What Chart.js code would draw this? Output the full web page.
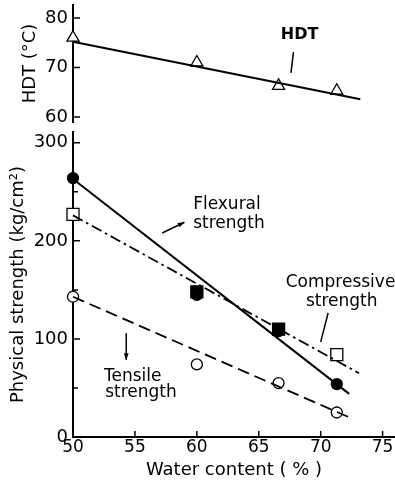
<!DOCTYPE html>
<html>
<head>
<meta charset="utf-8">
<script src="https://cdn.jsdelivr.net/npm/chart.js@4.4.1/dist/chart.umd.min.js"></script>
<style>
  html, body { margin: 0; padding: 0; background: #fff; }
  #wrap { position: relative; width: 395px; height: 481px; }
  #topBox { position: absolute; left: 0; top: 0; width: 395px; height: 127px; }
  #botBox { position: absolute; left: 0; top: 127px; width: 395px; height: 354px; }
</style>
</head>
<body>
<div id="wrap">
  <div id="topBox"><canvas id="hdtChart"></canvas></div>
  <div id="botBox"><canvas id="strengthChart"></canvas></div>
</div>
<script>
// measured points
const waterContent = [50, 60, 66.6, 71.3];
const hdtValues = [76, 71, 66.3, 65.3];
const flexuralValues = [264, 145, 108, 54];
const compressiveValues = [227, 148, 110, 84];
const tensileValues = [143, 74, 55, 25];

// fitted straight lines (start and end)
const hdtFitX = [50, 73.2];
const hdtFit = [75.2, 63.6];
const flexuralFitX = [50, 72.3];
const flexuralFit = [263, 44];
const compressiveFitX = [50, 73.1];
const compressiveFit = [226, 65];
const tensileFitX = [50, 72.5];
const tensileFit = [143, 19];

// tick labels
const waterTicks = [50, 55, 60, 65, 70, 75];
const hdtTicks = [60, 70, 80];
const strengthTicks = [0, 100, 200, 300];
const strengthMinorTicks = [50, 150, 250];

Chart.defaults.font.family = "'DejaVu Sans', sans-serif";
Chart.defaults.color = '#000';

const toPoints = (xs, ys) => xs.map((x, i) => ({ x: x, y: ys[i] }));

// keep the plot box where the figure has it, labels may overhang
function fixWidth(s) {
  s.width = 73;
  s.paddingTop = 0;
  s.paddingBottom = 0;
}
function fixHeight(s) {
  s.height = 44;
  s.paddingLeft = 0;
  s.paddingRight = 0;
}

// short tick marks drawn inside the plot, like the printed figure
const innerTicks = {
  id: 'innerTicks',
  afterDraw(chart) {
    const ctx = chart.ctx;
    const xs = chart.scales.x;
    const ys = chart.scales.y;
    ctx.save();
    ctx.strokeStyle = '#000';
    ctx.lineWidth = 1.5;
    ctx.beginPath();
    ys.ticks.forEach(t => {
      const py = ys.getPixelForValue(t.value);
      const len = strengthMinorTicks.includes(t.value) && chart.canvas.id === 'strengthChart' ? 5 : 7;
      ctx.moveTo(ys.right, py);
      ctx.lineTo(ys.right + len, py);
    });
    if (xs.options.display) {
      xs.ticks.forEach(t => {
        if (t.value === 50) return;
        const px = xs.getPixelForValue(t.value);
        ctx.moveTo(px, xs.top);
        ctx.lineTo(px, xs.top - 6);
      });
    }
    ctx.stroke();
    ctx.restore();
  }
};

function arrowHead(ctx, x1, y1, x2, y2) {
  const a = Math.atan2(y2 - y1, x2 - x1);
  const s = 7;
  ctx.beginPath();
  ctx.moveTo(x2, y2);
  ctx.lineTo(x2 - s * Math.cos(a - 0.35), y2 - s * Math.sin(a - 0.35));
  ctx.lineTo(x2 - s * Math.cos(a + 0.35), y2 - s * Math.sin(a + 0.35));
  ctx.closePath();
  ctx.fill();
}

// text labels and leader lines, placed in data units
function makeNotes(labels, pointers) {
  return {
    id: 'notes',
    afterDatasetsDraw(chart) {
      const ctx = chart.ctx;
      const xs = chart.scales.x;
      const ys = chart.scales.y;
      ctx.save();
      ctx.fillStyle = '#000';
      ctx.strokeStyle = '#000';
      ctx.lineWidth = 1.5;
      ctx.textBaseline = 'middle';
      labels.forEach(l => {
        ctx.font = l.font;
        ctx.textAlign = l.align;
        ctx.fillText(l.text, xs.getPixelForValue(l.x), ys.getPixelForValue(l.y));
      });
      pointers.forEach(p => {
        const x1 = xs.getPixelForValue(p.from[0]), y1 = ys.getPixelForValue(p.from[1]);
        const x2 = xs.getPixelForValue(p.to[0]), y2 = ys.getPixelForValue(p.to[1]);
        ctx.beginPath();
        ctx.moveTo(x1, y1);
        ctx.lineTo(x2, y2);
        ctx.stroke();
        if (p.arrow) arrowHead(ctx, x1, y1, x2, y2);
      });
      ctx.restore();
    }
  };
}

const noteFont = "17px 'DejaVu Sans'";

new Chart(document.getElementById('hdtChart'), {
  type: 'scatter',
  data: {
    datasets: [{
      data: toPoints(hdtFitX, hdtFit),
      showLine: true,
      borderColor: '#000',
      borderWidth: 2,
      pointRadius: 0,
      clip: false
    }, {
      data: toPoints(waterContent, hdtValues),
      pointStyle: 'triangle',
      pointRadius: 7,
      backgroundColor: '#fff',
      borderColor: '#000',
      borderWidth: 1.3,
      clip: false
    }]
  },
  options: {
    responsive: true,
    maintainAspectRatio: false,
    animation: false,
    events: [],
    layout: { autoPadding: false, padding: { top: 5, bottom: 5, left: 0, right: 0 } },
    plugins: { legend: { display: false }, tooltip: { enabled: false } },
    scales: {
      x: { type: 'linear', min: 50, max: 76, display: false },
      y: {
        min: 59,
        max: 82.6,
        afterBuildTicks: s => { s.ticks = hdtTicks.map(v => ({ value: v })); },
        afterFit: fixWidth,
        grid: { display: false, drawTicks: false },
        border: { display: true, color: '#000', width: 2 },
        ticks: { padding: 5, font: { size: 18 } },
        title: { display: true, text: 'HDT (°C)', font: { size: 18 }, padding: { top: 20 } }
      }
    }
  },
  plugins: [innerTicks, makeNotes(
    [{ text: 'HDT', x: 68.3, y: 76.6, align: 'center', font: "bold 16px 'DejaVu Sans'" }],
    [{ from: [67.8, 73.1], to: [67.6, 68.9], arrow: false }]
  )]
});

new Chart(document.getElementById('strengthChart'), {
  type: 'scatter',
  data: {
    datasets: [{
      data: toPoints(flexuralFitX, flexuralFit),
      showLine: true, borderColor: '#000', borderWidth: 2, pointRadius: 0, clip: false
    }, {
      data: toPoints(compressiveFitX, compressiveFit),
      showLine: true, borderColor: '#000', borderWidth: 1.8, pointRadius: 0, clip: false,
      borderDash: [11, 4, 2.5, 4]
    }, {
      data: toPoints(tensileFitX, tensileFit),
      showLine: true, borderColor: '#000', borderWidth: 1.8, pointRadius: 0, clip: false,
      borderDash: [12, 6]
    }, {
      data: toPoints(waterContent, compressiveValues),
      pointStyle: 'rect', pointRadius: 8.5, clip: false,
      backgroundColor: ['#fff', '#000', '#000', '#fff'],
      borderColor: '#000', borderWidth: 1.3
    }, {
      data: toPoints(waterContent, flexuralValues),
      pointStyle: 'circle', pointRadius: 5.5, clip: false,
      backgroundColor: '#000', borderColor: '#000', borderWidth: 1.3
    }, {
      data: toPoints(waterContent, tensileValues),
      pointStyle: 'circle', pointRadius: 5.5, clip: false,
      backgroundColor: '#fff', borderColor: '#000', borderWidth: 1.3
    }]
  },
  options: {
    responsive: true,
    maintainAspectRatio: false,
    animation: false,
    events: [],
    layout: { autoPadding: false, padding: { top: 5, bottom: 0, left: 0, right: 0 } },
    plugins: { legend: { display: false }, tooltip: { enabled: false } },
    scales: {
      x: {
        type: 'linear',
        min: 50,
        max: 76,
        afterBuildTicks: s => { s.ticks = waterTicks.map(v => ({ value: v })); },
        afterFit: fixHeight,
        grid: { display: false, drawTicks: false },
        border: { display: true, color: '#000', width: 2 },
        ticks: { padding: 0, font: { size: 17 }, maxRotation: 0 },
        title: { display: true, text: 'Water content ( % )', font: { size: 18 }, padding: { bottom: 0, top: 0 } }
      },
      y: {
        min: 0,
        max: 311,
        afterBuildTicks: s => { s.ticks = strengthTicks.concat(strengthMinorTicks).map(v => ({ value: v })); },
        afterFit: fixWidth,
        grid: { display: false, drawTicks: false },
        border: { display: true, color: '#000', width: 2 },
        ticks: {
          padding: 5,
          font: { size: 18 },
          callback: v => strengthTicks.includes(v) ? String(v) : ''
        },
        title: { display: true, text: 'Physical strength (kg/cm²)', font: { size: 18 }, padding: { top: 8 } }
      }
    }
  },
  plugins: [innerTicks, makeNotes(
    [
      { text: 'Flexural', x: 59.7, y: 236.7, align: 'left', font: noteFont },
      { text: 'strength', x: 59.7, y: 218, align: 'left', font: noteFont },
      { text: 'Compressive', x: 71.6, y: 157, align: 'center', font: noteFont },
      { text: 'strength', x: 71.7, y: 138, align: 'center', font: noteFont },
      { text: 'Tensile', x: 52.5, y: 62, align: 'left', font: noteFont },
      { text: 'strength', x: 52.6, y: 45, align: 'left', font: noteFont }
    ],
    [
      { from: [57.2, 208], to: [59.0, 219], arrow: true },
      { from: [70.6, 126.5], to: [70.0, 97], arrow: false },
      { from: [54.3, 106], to: [54.3, 78.6], arrow: true }
    ]
  )]
});
</script>
</body>
</html>
